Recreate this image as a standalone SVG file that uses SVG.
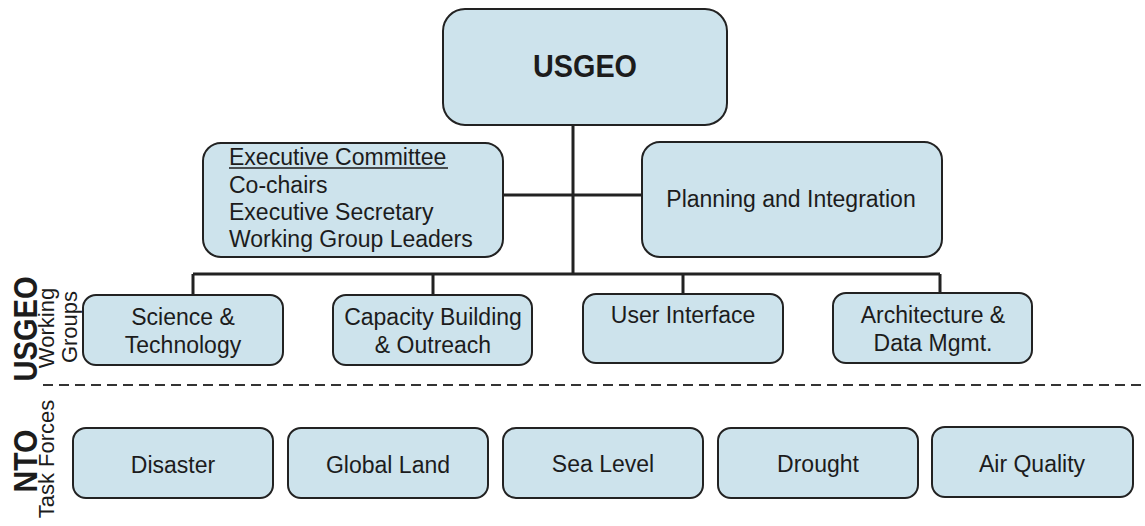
<svg xmlns="http://www.w3.org/2000/svg" width="1145" height="526" viewBox="0 0 1145 526">
<style>
.box{fill:#cde3ec;stroke:#222;stroke-width:2}
.t{font-family:"Liberation Sans",Arial,sans-serif;font-size:23px;fill:#1c1c1c;text-anchor:middle}
.tl{font-family:"Liberation Sans",Arial,sans-serif;font-size:23px;fill:#1c1c1c}
.b{font-family:"Liberation Sans",Arial,sans-serif;font-weight:bold;fill:#1c1c1c;text-anchor:middle}
.side{font-family:"Liberation Sans",Arial,sans-serif;font-size:22px;fill:#1c1c1c;text-anchor:middle}
.c{fill:none;stroke:#222;stroke-width:3}
</style>
<rect width="1145" height="526" fill="#ffffff"/>
<g id="connectors">
<path class="c" d="M573 125 V274 M503 195 H642 M193 274 H940 M193 274 V295 M433 274 V295 M683 274 V294 M940 274 V293"/>
<path d="M43 385 H1145" fill="none" stroke="#333" stroke-width="2" stroke-dasharray="10,6"/>
</g>
<g id="usgeo">
<rect class="box" x="443" y="9" width="284" height="116" rx="22"/>
<text class="b" x="585" y="77" font-size="31" textLength="104" lengthAdjust="spacingAndGlyphs">USGEO</text>
</g>
<g id="executive">
<rect class="box" x="203" y="143" width="300" height="114" rx="18"/>
<text class="tl" x="229" y="165">Executive Committee</text>
<line x1="229" y1="168" x2="448" y2="168" stroke="#1c1c1c" stroke-width="1.5"/>
<text class="tl" x="229" y="193">Co-chairs</text>
<text class="tl" x="229" y="220">Executive Secretary</text>
<text class="tl" x="229" y="247">Working Group Leaders</text>
</g>
<g id="planning">
<rect class="box" x="642" y="142" width="300" height="115" rx="18"/>
<text class="t" x="791" y="207">Planning and Integration</text>
</g>
<g id="science">
<rect class="box" x="83" y="295" width="200" height="70" rx="13"/>
<text class="t" x="183" y="325">Science &amp;</text>
<text class="t" x="183" y="353">Technology</text>
</g>
<g id="capacity">
<rect class="box" x="333" y="295" width="199" height="70" rx="13"/>
<text class="t" x="433" y="325">Capacity Building</text>
<text class="t" x="433" y="353">&amp; Outreach</text>
</g>
<g id="userinterface">
<rect class="box" x="583" y="294" width="200" height="69" rx="13"/>
<text class="t" x="683" y="323">User Interface</text>
</g>
<g id="architecture">
<rect class="box" x="833" y="293" width="199" height="70" rx="13"/>
<text class="t" x="933" y="323">Architecture &amp;</text>
<text class="t" x="933" y="351">Data Mgmt.</text>
</g>
<g id="disaster">
<rect class="box" x="73" y="428" width="200" height="70" rx="13"/>
<text class="t" x="173" y="473">Disaster</text>
</g>
<g id="globalland">
<rect class="box" x="288" y="428" width="200" height="70" rx="13"/>
<text class="t" x="388" y="473">Global Land</text>
</g>
<g id="sealevel">
<rect class="box" x="503" y="428" width="200" height="70" rx="13"/>
<text class="t" x="603" y="472">Sea Level</text>
</g>
<g id="drought">
<rect class="box" x="718" y="428" width="200" height="70" rx="13"/>
<text class="t" x="818" y="472">Drought</text>
</g>
<g id="airquality">
<rect class="box" x="932" y="427" width="201" height="70" rx="13"/>
<text class="t" x="1032" y="472">Air Quality</text>
</g>
<g id="side-labels">
<text class="b" transform="translate(37,329) rotate(-90)" font-size="33" textLength="105" lengthAdjust="spacingAndGlyphs">USGEO</text>
<text class="side" transform="translate(54,328) rotate(-90)">Working</text>
<text class="side" transform="translate(77,327) rotate(-90)">Groups</text>
<text class="b" transform="translate(37,461) rotate(-90)" font-size="33" textLength="63" lengthAdjust="spacingAndGlyphs">NTO</text>
<text class="side" transform="translate(54,459) rotate(-90)">Task Forces</text>
</g>
</svg>
